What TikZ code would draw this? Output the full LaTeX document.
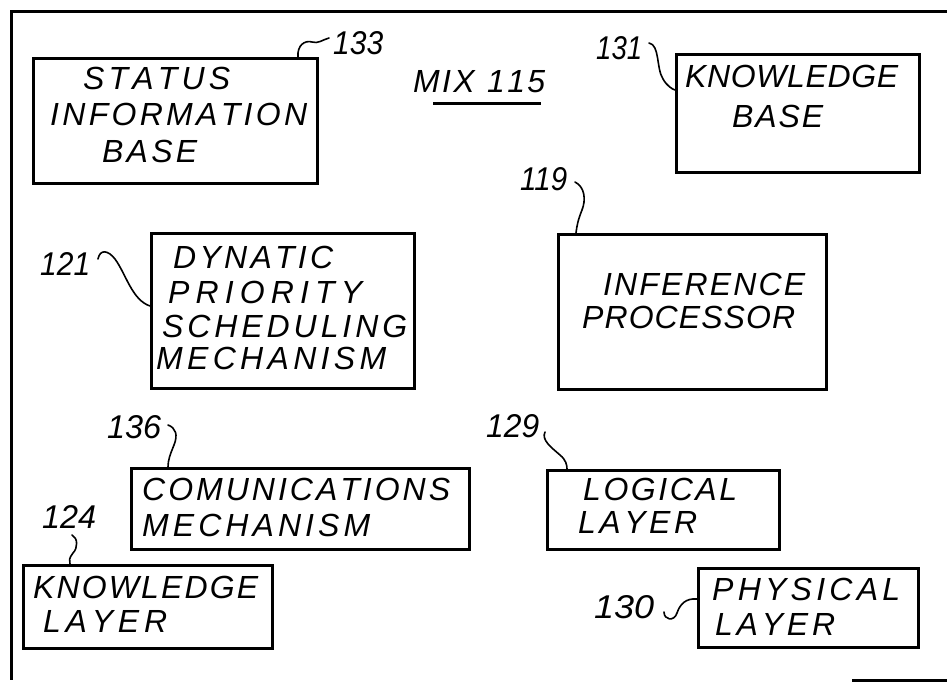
\documentclass[tikz,border=0pt]{standalone}
\usepackage{fontspec}
\usepackage{graphicx}
\setmainfont{Liberation Sans}
\newcommand\ls[2]{\makebox[#1pt][s]{\spaceskip=0pt plus 1fil minus 1fil\relax #2}}
\newcommand\numl[2]{\resizebox{#1pt}{23pt}{#2}}
\begin{document}
\begin{tikzpicture}[x=1pt,y=-1pt,
  blk/.style={draw,line width=3pt,inner sep=0pt,anchor=north west},
  txt/.style={anchor=base west,inner sep=0pt,font=\fontsize{32}{32}\selectfont\itshape},
  lead/.style={line width=1.6pt,line cap=round},
  frm/.style={line width=3pt}]
\useasboundingbox (0,0) rectangle (947,682);
% frame
\coordinate (ftr) at (947,12);
\coordinate (ftl) at (11,12);
\coordinate (fbl) at (11,680);
\coordinate (fbr1) at (852,680);
\coordinate (fbr2) at (947,680);
\draw[frm] (ftr) -- (ftl) -- (fbl);
\draw[frm] (fbr1) -- (fbr2);
% boxes
\node[blk,minimum width=284pt,minimum height=125pt] (b133) at (32,57) {};
\node[blk,minimum width=243pt,minimum height=118pt] (b131) at (675,53) {};
\node[blk,minimum width=263pt,minimum height=155pt] (b121) at (150,232) {};
\node[blk,minimum width=268pt,minimum height=155pt] (b119) at (557,233) {};
\node[blk,minimum width=338pt,minimum height=81pt] (b136) at (130,467) {};
\node[blk,minimum width=249pt,minimum height=83pt] (b124) at (22,564) {};
\node[blk,minimum width=232pt,minimum height=79pt] (b129) at (546,469) {};
\node[blk,minimum width=220pt,minimum height=79pt] (b130) at (697,567) {};
% box texts
\node[txt] (t1a) at (83,90) {\ls{147}{S T A T U S}};
\node[txt] (t1b) at (50,125) {\ls{257}{I N F O R M A T I O N}};
\node[txt] (t1c) at (102,162) {\ls{95}{B A S E}};
\node[txt] (t2a) at (685,88) {\ls{213}{K N O W L E D G E}};
\node[txt] (t2b) at (732,128) {\ls{91}{B A S E}};
\node[txt] (t3a) at (173,268) {\ls{160}{D Y N A T I C}};
\node[txt] (t3b) at (168,303) {\ls{194}{P R I O R I T Y}};
\node[txt] (t3c) at (162,337) {\ls{245}{S C H E D U L I N G}};
\node[txt] (t3d) at (156,369) {\ls{230}{M E C H A N I S M}};
\node[txt] (t4a) at (603,295) {\ls{202}{I N F E R E N C E}};
\node[txt] (t4b) at (582,328) {\ls{213}{P R O C E S S O R}};
\node[txt] (t5a) at (142,500) {\ls{308}{C O M U N I C A T I O N S}};
\node[txt] (t5b) at (142,536) {\ls{228}{M E C H A N I S M}};
\node[txt] (t6a) at (33,598) {\ls{225}{K N O W L E D G E}};
\node[txt] (t6b) at (43,632) {\ls{124}{L A Y E R}};
\node[txt] (t7a) at (583,500) {\ls{154}{L O G I C A L}};
\node[txt] (t7b) at (578,533) {\ls{119}{L A Y E R}};
\node[txt] (t8a) at (712,600) {\ls{188}{P H Y S I C A L}};
\node[txt] (t8b) at (715,635) {\ls{120}{L A Y E R}};
% reference numerals
\node[txt] (n133) at (333,55) {\numl{50}{133}};
\node[txt] (mix) at (413,93) {\ls{132}{M I X \hspace{8pt} 1 1 5}};
\node[txt] (n131) at (596,60) {\numl{46}{131}};
\node[txt] (n119) at (520,190) {\numl{47}{119}};
\node[txt] (n121) at (40,275) {\numl{50}{121}};
\node[txt] (n136) at (107,438) {\numl{54}{136}};
\node[txt] (n124) at (42,528) {\numl{54}{124}};
\node[txt] (n129) at (486,437) {\numl{53}{129}};
\node[txt] (n130) at (594,618) {\numl{60}{130}};
\coordinate (ul1) at (433,104);
\coordinate (ul2) at (541,104);
\draw[line width=3pt] (ul1) -- (ul2);
% leaders
\coordinate (l133a) at (298,57); \coordinate (l133b) at (329,38);
\draw[lead] (l133a) .. controls (297,45) and (305,40) .. (312,42) .. controls (318,44) and (322,40) .. (l133b);
\coordinate (l131a) at (649,43); \coordinate (l131b) at (675,90);
\draw[lead] (l131a) .. controls (660,45) and (656,68) .. (663,79) .. controls (667,86) and (672,89) .. (l131b);
\coordinate (l119a) at (575,182); \coordinate (l119b) at (576,233);
\draw[lead] (l119a) .. controls (585,187) and (586,200) .. (582,210) .. controls (578,220) and (577,225) .. (l119b);
\coordinate (l121a) at (98,259); \coordinate (l121b) at (150,306);
\draw[lead] (l121a) .. controls (100,249) and (108,250) .. (115,259) .. controls (126,274) and (132,300) .. (l121b);
\coordinate (l136a) at (168,425); \coordinate (l136b) at (168,467);
\draw[lead] (l136a) .. controls (176,428) and (178,435) .. (174,445) .. controls (170,455) and (168,460) .. (l136b);
\coordinate (l124a) at (72,535); \coordinate (l124b) at (70,564);
\draw[lead] (l124a) .. controls (78,538) and (78,548) .. (73,553) .. controls (69,558) and (69,561) .. (l124b);
\coordinate (l129a) at (545,432); \coordinate (l129b) at (567,469);
\draw[lead] (l129a) .. controls (541,440) and (552,448) .. (560,455) .. controls (566,460) and (567,465) .. (l129b);
\coordinate (l130a) at (664,612); \coordinate (l130b) at (697,599);
\draw[lead] (l130a) .. controls (664,620) and (674,622) .. (677,613) .. controls (680,604) and (686,598) .. (l130b);
\end{tikzpicture}
\end{document}
